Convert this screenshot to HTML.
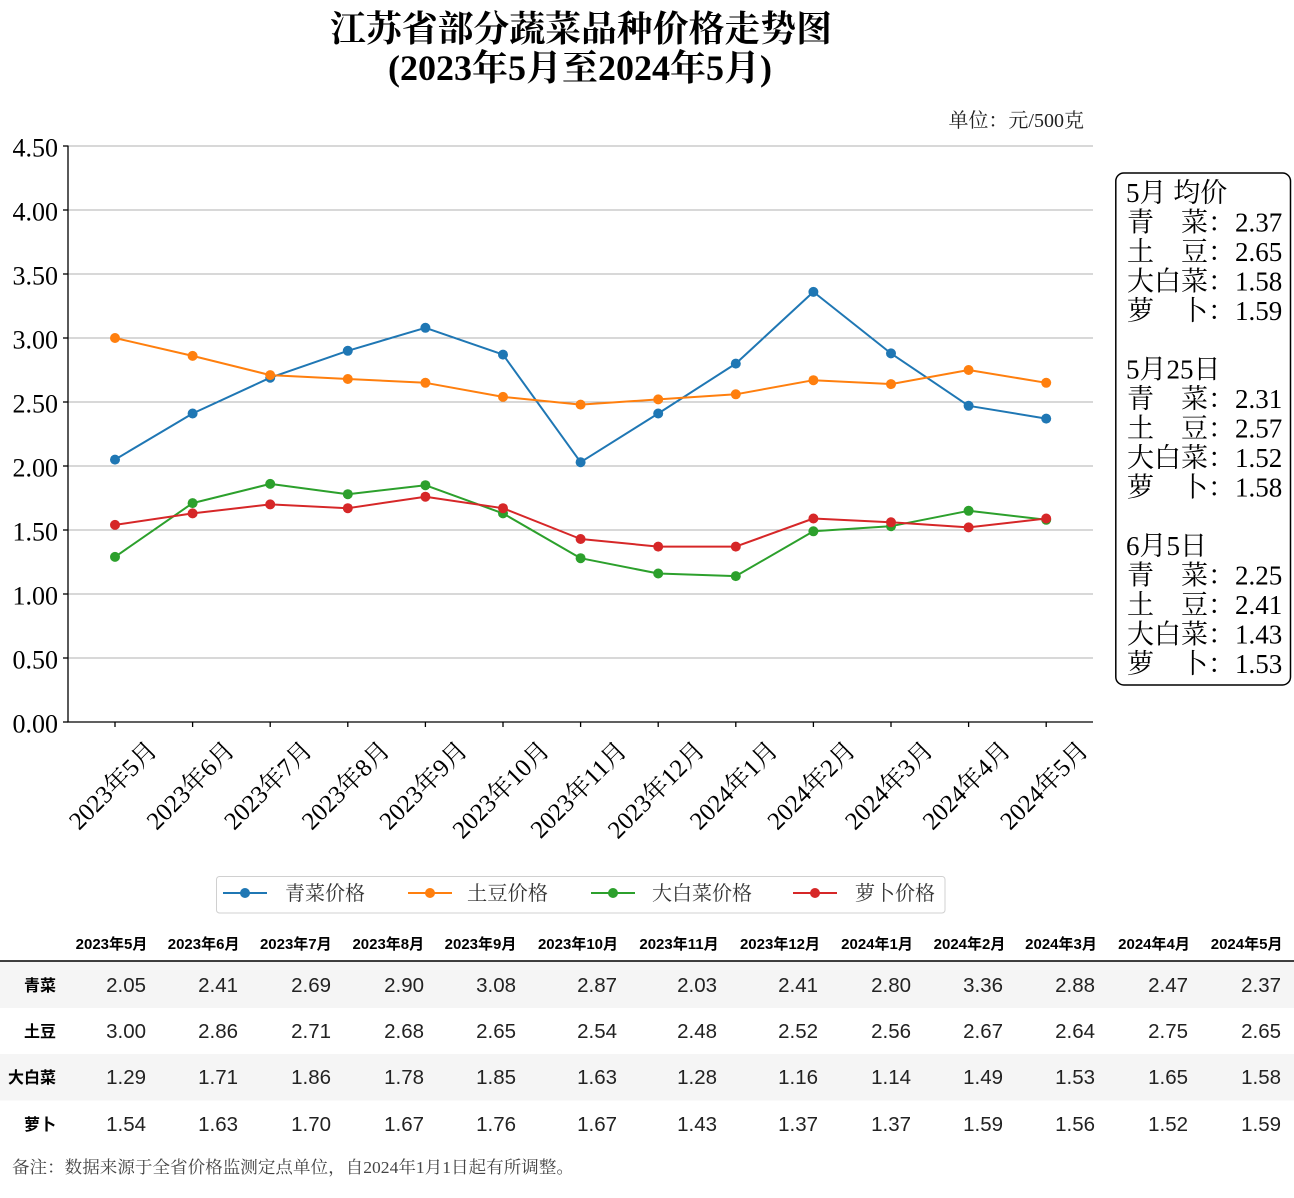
<!DOCTYPE html>
<html><head><meta charset="utf-8"><style>
html,body{margin:0;padding:0;background:#fff;}
svg{display:block;}
.s{font-family:"Liberation Serif","Noto Serif CJK SC",serif;}
.a{font-family:"Liberation Sans","Noto Sans CJK SC",sans-serif;}
</style></head><body>
<svg width="1294" height="1198" viewBox="0 0 1294 1198" xmlns="http://www.w3.org/2000/svg">
<rect width="1294" height="1198" fill="#fff"/>
<!-- Title -->
<text class="s" x="581" y="41" font-size="36" font-weight="bold" text-anchor="middle" textLength="502" lengthAdjust="spacingAndGlyphs">江苏省部分蔬菜品种价格走势图</text>
<text class="s" x="580" y="80" font-size="36" font-weight="bold" text-anchor="middle" textLength="384" lengthAdjust="spacingAndGlyphs">(2023年5月至2024年5月)</text>
<text class="s" x="1084" y="127" font-size="20" text-anchor="end" fill="#222">单位：元/500克</text>

<!-- grid -->
<g stroke="#b0b0b0" stroke-width="1">
<line x1="68" y1="146" x2="1093" y2="146"/>
<line x1="68" y1="210" x2="1093" y2="210"/>
<line x1="68" y1="274" x2="1093" y2="274"/>
<line x1="68" y1="338" x2="1093" y2="338"/>
<line x1="68" y1="402" x2="1093" y2="402"/>
<line x1="68" y1="466" x2="1093" y2="466"/>
<line x1="68" y1="530" x2="1093" y2="530"/>
<line x1="68" y1="594" x2="1093" y2="594"/>
<line x1="68" y1="658" x2="1093" y2="658"/>
</g>
<!-- spines -->
<g stroke="#000" stroke-width="1.3">
<line x1="68" y1="145.5" x2="68" y2="722.5"/>
<line x1="67.5" y1="722" x2="1093" y2="722"/>
<line x1="63" y1="146" x2="68" y2="146"/>
<line x1="63" y1="210" x2="68" y2="210"/>
<line x1="63" y1="274" x2="68" y2="274"/>
<line x1="63" y1="338" x2="68" y2="338"/>
<line x1="63" y1="402" x2="68" y2="402"/>
<line x1="63" y1="466" x2="68" y2="466"/>
<line x1="63" y1="530" x2="68" y2="530"/>
<line x1="63" y1="594" x2="68" y2="594"/>
<line x1="63" y1="658" x2="68" y2="658"/>
<line x1="63" y1="722" x2="68" y2="722"/>
<line x1="115" y1="722" x2="115" y2="727"/>
<line x1="192.6" y1="722" x2="192.6" y2="727"/>
<line x1="270.2" y1="722" x2="270.2" y2="727"/>
<line x1="347.8" y1="722" x2="347.8" y2="727"/>
<line x1="425.4" y1="722" x2="425.4" y2="727"/>
<line x1="503" y1="722" x2="503" y2="727"/>
<line x1="580.6" y1="722" x2="580.6" y2="727"/>
<line x1="658.2" y1="722" x2="658.2" y2="727"/>
<line x1="735.8" y1="722" x2="735.8" y2="727"/>
<line x1="813.4" y1="722" x2="813.4" y2="727"/>
<line x1="891" y1="722" x2="891" y2="727"/>
<line x1="968.6" y1="722" x2="968.6" y2="727"/>
<line x1="1046.2" y1="722" x2="1046.2" y2="727"/>
</g>
<!-- y labels -->
<g class="s" font-size="26" text-anchor="end" fill="#000">
<text x="58" y="156.5">4.50</text>
<text x="58" y="220.5">4.00</text>
<text x="58" y="284.5">3.50</text>
<text x="58" y="348.5">3.00</text>
<text x="58" y="412.5">2.50</text>
<text x="58" y="476.5">2.00</text>
<text x="58" y="540.5">1.50</text>
<text x="58" y="604.5">1.00</text>
<text x="58" y="668.5">0.50</text>
<text x="58" y="732.5">0.00</text>
</g>
<!-- x labels -->
<g class="s" font-size="25" text-anchor="middle" fill="#000">
<g transform="translate(112.5,784.9) rotate(-45)"><text y="9">2023年5月</text></g>
<g transform="translate(190.1,784.9) rotate(-45)"><text y="9">2023年6月</text></g>
<g transform="translate(267.7,784.9) rotate(-45)"><text y="9">2023年7月</text></g>
<g transform="translate(345.3,784.9) rotate(-45)"><text y="9">2023年8月</text></g>
<g transform="translate(422.9,784.9) rotate(-45)"><text y="9">2023年9月</text></g>
<g transform="translate(500.5,789.3) rotate(-45)"><text y="9">2023年10月</text></g>
<g transform="translate(578.1,789.3) rotate(-45)"><text y="9">2023年11月</text></g>
<g transform="translate(655.7,789.3) rotate(-45)"><text y="9">2023年12月</text></g>
<g transform="translate(733.3,784.9) rotate(-45)"><text y="9">2024年1月</text></g>
<g transform="translate(810.9,784.9) rotate(-45)"><text y="9">2024年2月</text></g>
<g transform="translate(888.5,784.9) rotate(-45)"><text y="9">2024年3月</text></g>
<g transform="translate(966.1,784.9) rotate(-45)"><text y="9">2024年4月</text></g>
<g transform="translate(1043.7,784.9) rotate(-45)"><text y="9">2024年5月</text></g>
</g>

<!-- series -->
<polyline fill="none" stroke-width="2" stroke-linejoin="round" stroke="#1f77b4" points="115,459.6 192.6,413.5 270.2,377.7 347.8,350.8 425.4,327.8 503,354.6 580.6,462.2 658.2,413.5 735.8,363.6 813.4,291.9 891,353.4 968.6,405.8 1046.2,418.6"/>
<g fill="#1f77b4">
<circle cx="115" cy="459.6" r="5"/><circle cx="192.6" cy="413.5" r="5"/><circle cx="270.2" cy="377.7" r="5"/><circle cx="347.8" cy="350.8" r="5"/><circle cx="425.4" cy="327.8" r="5"/><circle cx="503" cy="354.6" r="5"/><circle cx="580.6" cy="462.2" r="5"/><circle cx="658.2" cy="413.5" r="5"/><circle cx="735.8" cy="363.6" r="5"/><circle cx="813.4" cy="291.9" r="5"/><circle cx="891" cy="353.4" r="5"/><circle cx="968.6" cy="405.8" r="5"/><circle cx="1046.2" cy="418.6" r="5"/>
</g>
<polyline fill="none" stroke-width="2" stroke-linejoin="round" stroke="#ff7f0e" points="115,338 192.6,355.9 270.2,375.1 347.8,379 425.4,382.8 503,396.9 580.6,404.6 658.2,399.4 735.8,394.3 813.4,380.2 891,384.1 968.6,370 1046.2,382.8"/>
<g fill="#ff7f0e">
<circle cx="115" cy="338" r="5"/><circle cx="192.6" cy="355.9" r="5"/><circle cx="270.2" cy="375.1" r="5"/><circle cx="347.8" cy="379" r="5"/><circle cx="425.4" cy="382.8" r="5"/><circle cx="503" cy="396.9" r="5"/><circle cx="580.6" cy="404.6" r="5"/><circle cx="658.2" cy="399.4" r="5"/><circle cx="735.8" cy="394.3" r="5"/><circle cx="813.4" cy="380.2" r="5"/><circle cx="891" cy="384.1" r="5"/><circle cx="968.6" cy="370" r="5"/><circle cx="1046.2" cy="382.8" r="5"/>
</g>
<polyline fill="none" stroke-width="2" stroke-linejoin="round" stroke="#2ca02c" points="115,556.9 192.6,503.1 270.2,483.9 347.8,494.2 425.4,485.2 503,513.4 580.6,558.2 658.2,573.5 735.8,576.1 813.4,531.3 891,526.2 968.6,510.8 1046.2,519.8"/>
<g fill="#2ca02c">
<circle cx="115" cy="556.9" r="5"/><circle cx="192.6" cy="503.1" r="5"/><circle cx="270.2" cy="483.9" r="5"/><circle cx="347.8" cy="494.2" r="5"/><circle cx="425.4" cy="485.2" r="5"/><circle cx="503" cy="513.4" r="5"/><circle cx="580.6" cy="558.2" r="5"/><circle cx="658.2" cy="573.5" r="5"/><circle cx="735.8" cy="576.1" r="5"/><circle cx="813.4" cy="531.3" r="5"/><circle cx="891" cy="526.2" r="5"/><circle cx="968.6" cy="510.8" r="5"/><circle cx="1046.2" cy="519.8" r="5"/>
</g>
<polyline fill="none" stroke-width="2" stroke-linejoin="round" stroke="#d62728" points="115,524.9 192.6,513.4 270.2,504.4 347.8,508.2 425.4,496.7 503,508.2 580.6,539 658.2,546.6 735.8,546.6 813.4,518.5 891,522.3 968.6,527.4 1046.2,518.5"/>
<g fill="#d62728">
<circle cx="115" cy="524.9" r="5"/><circle cx="192.6" cy="513.4" r="5"/><circle cx="270.2" cy="504.4" r="5"/><circle cx="347.8" cy="508.2" r="5"/><circle cx="425.4" cy="496.7" r="5"/><circle cx="503" cy="508.2" r="5"/><circle cx="580.6" cy="539" r="5"/><circle cx="658.2" cy="546.6" r="5"/><circle cx="735.8" cy="546.6" r="5"/><circle cx="813.4" cy="518.5" r="5"/><circle cx="891" cy="522.3" r="5"/><circle cx="968.6" cy="527.4" r="5"/><circle cx="1046.2" cy="518.5" r="5"/>
</g>

<!-- info box -->
<rect x="1115.8" y="173" width="174.7" height="512" rx="8" ry="8" fill="#fff" stroke="#000" stroke-width="1.5"/>
<g class="s" font-size="27" fill="#000">
<text x="1126" y="202">5月 均价</text>
<text x="1127" y="231.5">青　菜：2.37</text>
<text x="1127" y="261">土　豆：2.65</text>
<text x="1127" y="290.5">大白菜：1.58</text>
<text x="1127" y="320">萝　卜：1.59</text>
<text x="1126" y="378.5">5月25日</text>
<text x="1127" y="408">青　菜：2.31</text>
<text x="1127" y="437.5">土　豆：2.57</text>
<text x="1127" y="467">大白菜：1.52</text>
<text x="1127" y="496.5">萝　卜：1.58</text>
<text x="1126" y="555">6月5日</text>
<text x="1127" y="584.5">青　菜：2.25</text>
<text x="1127" y="614">土　豆：2.41</text>
<text x="1127" y="643.5">大白菜：1.43</text>
<text x="1127" y="673">萝　卜：1.53</text>
</g>

<!-- legend -->
<rect x="216.5" y="876.5" width="728.5" height="36.5" rx="3" ry="3" fill="#fff" stroke="#d0d0d0" stroke-width="1"/>
<g stroke-width="2">
<line x1="223" y1="893" x2="267" y2="893" stroke="#1f77b4"/><circle cx="245" cy="893" r="5" fill="#1f77b4"/>
<line x1="408" y1="893" x2="452" y2="893" stroke="#ff7f0e"/><circle cx="430" cy="893" r="5" fill="#ff7f0e"/>
<line x1="591" y1="893" x2="635" y2="893" stroke="#2ca02c"/><circle cx="613" cy="893" r="5" fill="#2ca02c"/>
<line x1="793" y1="893" x2="837" y2="893" stroke="#d62728"/><circle cx="815" cy="893" r="5" fill="#d62728"/>
</g>
<g class="s" font-size="20" fill="#333">
<text x="285" y="900" textLength="80" lengthAdjust="spacingAndGlyphs">青菜价格</text>
<text x="467" y="900" textLength="81" lengthAdjust="spacingAndGlyphs">土豆价格</text>
<text x="652" y="900" textLength="100" lengthAdjust="spacingAndGlyphs">大白菜价格</text>
<text x="855" y="900" textLength="80" lengthAdjust="spacingAndGlyphs">萝卜价格</text>
</g>

<!-- table -->
<rect x="0" y="961.5" width="1294" height="46.5" fill="#f5f5f5"/>
<rect x="0" y="1054" width="1294" height="46.5" fill="#f5f5f5"/>
<line x1="0" y1="961" x2="1294" y2="961" stroke="#000" stroke-width="1.5"/>
<g class="a" font-size="15" font-weight="bold" fill="#000" text-anchor="middle">
<text x="111.5" y="949">2023年5月</text>
<text x="203.6" y="949">2023年6月</text>
<text x="295.8" y="949">2023年7月</text>
<text x="388.3" y="949">2023年8月</text>
<text x="480.5" y="949">2023年9月</text>
<text x="578" y="949">2023年10月</text>
<text x="679" y="949">2023年11月</text>
<text x="780" y="949">2023年12月</text>
<text x="877" y="949">2024年1月</text>
<text x="969.5" y="949">2024年2月</text>
<text x="1061" y="949">2024年3月</text>
<text x="1154" y="949">2024年4月</text>
<text x="1246.6" y="949">2024年5月</text>
</g>
<g class="a" font-size="16" font-weight="bold" fill="#000" text-anchor="end">
<text x="56" y="991">青菜</text>
<text x="56" y="1037">土豆</text>
<text x="56" y="1083">大白菜</text>
<text x="56" y="1130">萝卜</text>
</g>
<g class="a" font-size="20.5" fill="#222" text-anchor="end">
<text x="146" y="992">2.05</text><text x="238" y="992">2.41</text><text x="331" y="992">2.69</text><text x="424" y="992">2.90</text><text x="516" y="992">3.08</text><text x="617" y="992">2.87</text><text x="717" y="992">2.03</text><text x="818" y="992">2.41</text><text x="911" y="992">2.80</text><text x="1003" y="992">3.36</text><text x="1095" y="992">2.88</text><text x="1188" y="992">2.47</text><text x="1281" y="992">2.37</text>
<text x="146" y="1038">3.00</text><text x="238" y="1038">2.86</text><text x="331" y="1038">2.71</text><text x="424" y="1038">2.68</text><text x="516" y="1038">2.65</text><text x="617" y="1038">2.54</text><text x="717" y="1038">2.48</text><text x="818" y="1038">2.52</text><text x="911" y="1038">2.56</text><text x="1003" y="1038">2.67</text><text x="1095" y="1038">2.64</text><text x="1188" y="1038">2.75</text><text x="1281" y="1038">2.65</text>
<text x="146" y="1084">1.29</text><text x="238" y="1084">1.71</text><text x="331" y="1084">1.86</text><text x="424" y="1084">1.78</text><text x="516" y="1084">1.85</text><text x="617" y="1084">1.63</text><text x="717" y="1084">1.28</text><text x="818" y="1084">1.16</text><text x="911" y="1084">1.14</text><text x="1003" y="1084">1.49</text><text x="1095" y="1084">1.53</text><text x="1188" y="1084">1.65</text><text x="1281" y="1084">1.58</text>
<text x="146" y="1131">1.54</text><text x="238" y="1131">1.63</text><text x="331" y="1131">1.70</text><text x="424" y="1131">1.67</text><text x="516" y="1131">1.76</text><text x="617" y="1131">1.67</text><text x="717" y="1131">1.43</text><text x="818" y="1131">1.37</text><text x="911" y="1131">1.37</text><text x="1003" y="1131">1.59</text><text x="1095" y="1131">1.56</text><text x="1188" y="1131">1.52</text><text x="1281" y="1131">1.59</text>
</g>
<text class="s" x="12" y="1173" font-size="17" fill="#444" textLength="562" lengthAdjust="spacingAndGlyphs">备注：数据来源于全省价格监测定点单位，自2024年1月1日起有所调整。</text>
</svg>
</body></html>
